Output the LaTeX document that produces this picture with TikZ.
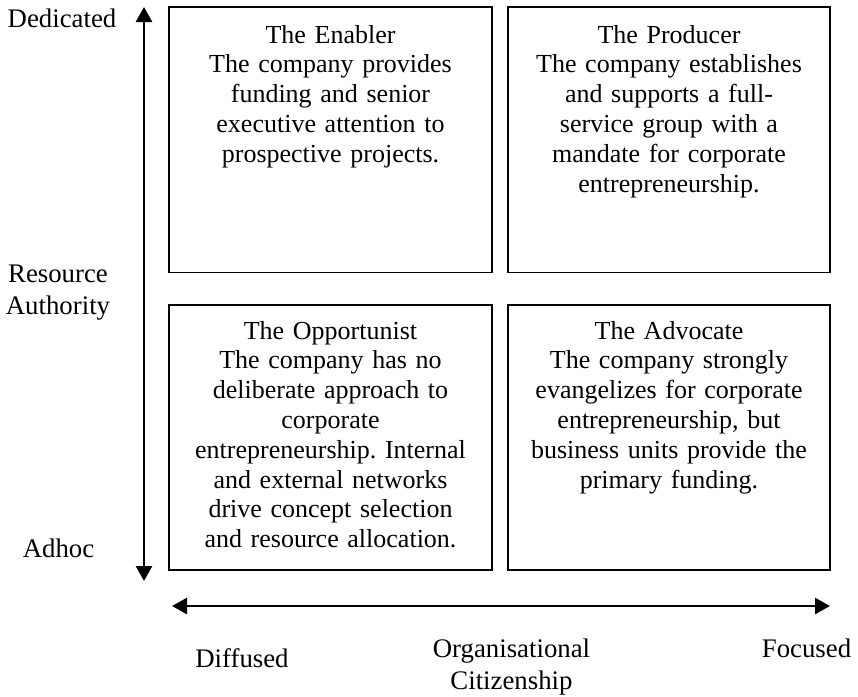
\documentclass[tikz,border=0pt]{standalone}
\usepackage{fontspec}
\setmainfont{Liberation Serif}
\usetikzlibrary{arrows.meta}
\begin{document}
\frenchspacing
\begin{tikzpicture}[x=1pt,y=-1pt,
  quad/.style={draw, line width=1.8pt, minimum width=322.5pt, minimum height=265.5pt, inner sep=0pt},
  qtext/.style={align=center, text width=320pt, inner sep=0pt, anchor=base, font=\fontsize{26}{29.8}\selectfont},
  lbl/.style={align=center, text width=170pt, inner sep=0pt, anchor=base, font=\fontsize{26.8}{32}\selectfont},
  axis/.style={line width=2.6pt, {Triangle[length=15pt,width=16pt]}-{Triangle[length=15pt,width=16pt]}}]
\useasboundingbox (0,0) rectangle (858,696);
% quadrant boxes
\node[quad] (enabler) at (330.5,139.8) {};
\node[quad] (producer) at (669,139.8) {};
\node[quad] (opport) at (330.5,437.5) {};
\node[quad] (advocate) at (669,437.5) {};
% box texts
\node[qtext] (tenabler) at (330.5,43) {The Enabler\\The company provides\\funding and senior\\executive attention to\\prospective projects.};
\node[qtext] (tproducer) at (669,43) {The Producer\\The company establishes\\and supports a full-\\service group with a\\mandate for corporate\\entrepreneurship.};
\node[qtext] (topport) at (330.5,339) {The Opportunist\\The company has no\\deliberate approach to\\corporate\\entrepreneurship. Internal\\and external networks\\drive concept selection\\and resource allocation.};
\node[qtext] (tadvocate) at (669,339) {The Advocate\\The company strongly\\evangelizes for corporate\\entrepreneurship, but\\business units provide the\\primary funding.};
% axes
\coordinate (vtop) at (144,7);
\coordinate (vbot) at (144,581);
\coordinate (hleft) at (172,606);
\coordinate (hright) at (830,606);
\draw[axis] (vtop) -- (vbot);
\draw[axis] (hleft) -- (hright);
% axis labels
\node[lbl] (ded) at (62,27) {Dedicated};
\node[lbl] (res) at (58,282) {Resource\\Authority};
\node[lbl] (adhoc) at (58.5,557) {Adhoc};
\node[lbl] (diff) at (242,667) {Diffused};
\node[lbl] (org) at (511.5,657) {Organisational\\Citizenship};
\node[lbl] (foc) at (806.5,657) {Focused};
\end{tikzpicture}
\end{document}
